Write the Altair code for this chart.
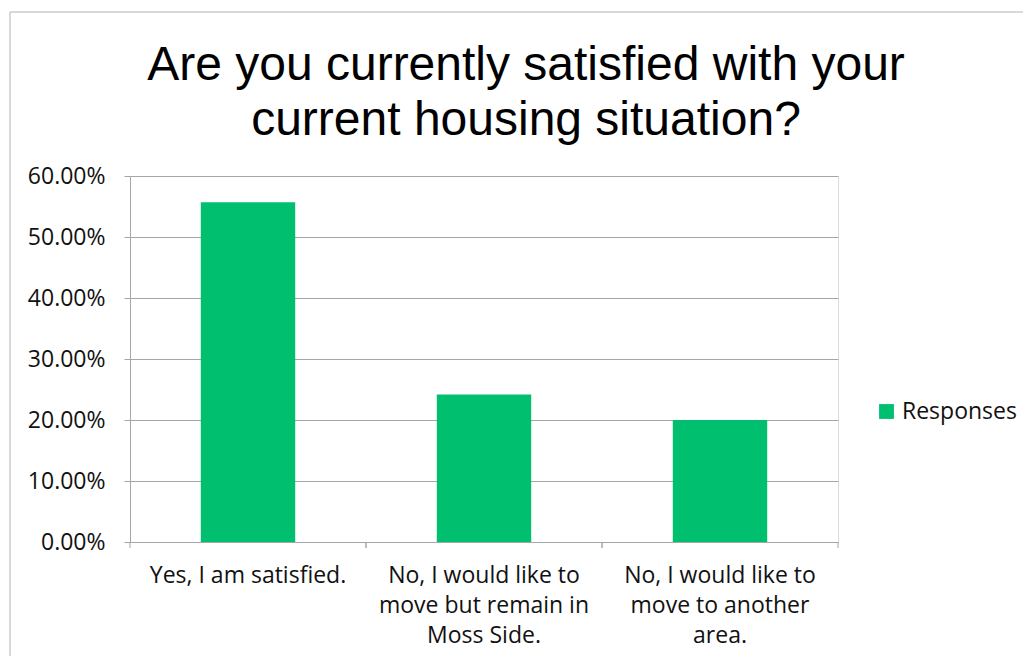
import altair as alt
import pandas as pd

categories = [
    "Yes, I am satisfied.",
    "No, I would like to\nmove but remain in\nMoss Side.",
    "No, I would like to\nmove to another\narea.",
]
values = [0.557, 0.242, 0.200]
series_name = "Responses"
y_ticks = [0.0, 0.1, 0.2, 0.3, 0.4, 0.5, 0.6]
title_lines = ["Are you currently satisfied with your", "current housing situation?"]

df = pd.DataFrame({"category": categories, "value": values, "series": [series_name] * len(categories)})

GRAY = "#a6a6a6"
GREEN = "#00BF6F"
W, H = 708, 366
FONT = "Open Sans"

xscale = alt.Scale(domain=categories, paddingInner=0.6, paddingOuter=0.3)
tick_scale = alt.Scale(domain=categories, paddingInner=0, paddingOuter=0)

bars = alt.Chart(df).mark_bar(color=GREEN).encode(
    x=alt.X("category:N", scale=xscale, sort=categories,
            axis=alt.Axis(title=None, labelAngle=0, ticks=False, domainColor=GRAY,
                          labelFont=FONT, labelFontSize=23, labelColor="#111111",
                          labelLineHeight=30, labelPadding=22, labelBaseline="top",
                          labelOverlap=False, labelLimit=400,
                          labelExpr="split(datum.label, '\\n')")),
    y=alt.Y("value:Q", scale=alt.Scale(domain=[0, 0.6]),
            axis=alt.Axis(title=None, format=".2%", values=y_ticks, tickSize=6,
                          tickColor=GRAY, domainColor=GRAY, gridColor=GRAY,
                          labelFont=FONT, labelFontSize=23, labelColor="#111111",
                          labelPadding=19)),
    color=alt.Color("series:N", scale=alt.Scale(domain=[series_name], range=[GREEN]),
                    legend=alt.Legend(title=None, orient="none", legendX=745, legendY=224,
                                      symbolType="square", symbolSize=220, symbolStrokeWidth=0,
                                      labelFont=FONT, labelFontSize=23, labelColor="#111111",
                                      labelOffset=4, padding=0)),
)

ticks = alt.Chart(df).mark_rule(color=GRAY, strokeWidth=1).encode(
    x=alt.X("category:N", scale=tick_scale, sort=categories, bandPosition=0, axis=None),
    y=alt.value(H),
    y2=alt.value(H + 6),
)
last_tick = alt.Chart(df).mark_rule(color=GRAY, strokeWidth=1).encode(
    x=alt.X("category:N", scale=tick_scale, sort=categories, bandPosition=1, axis=None),
    y=alt.value(H),
    y2=alt.value(H + 6),
)
tick_layer = alt.layer(ticks, last_tick)

border = alt.Chart(pd.DataFrame({"k": [0]})).mark_rect(fillOpacity=0, stroke="#b3b3b3", strokeWidth=1).encode(
    x=alt.value(-120), x2=alt.value(1000), y=alt.value(-164), y2=alt.value(700)
)

chart = alt.layer(border, bars, tick_layer).resolve_scale(x="independent").properties(
    width=W, height=H,
    title=alt.TitleParams(text=title_lines, font="Liberation Sans", fontSize=48,
                          fontWeight="normal", color="#000000", lineHeight=55,
                          anchor="middle", dx=42, offset=0, dy=133),
    autosize=alt.AutoSizeParams(type="none"),
    padding={"left": 122, "top": 168, "right": 185, "bottom": 114},
).configure_view(strokeWidth=0).configure(background="white")

chart.save("out.html", embed_options={"renderer": "svg", "actions": False})
